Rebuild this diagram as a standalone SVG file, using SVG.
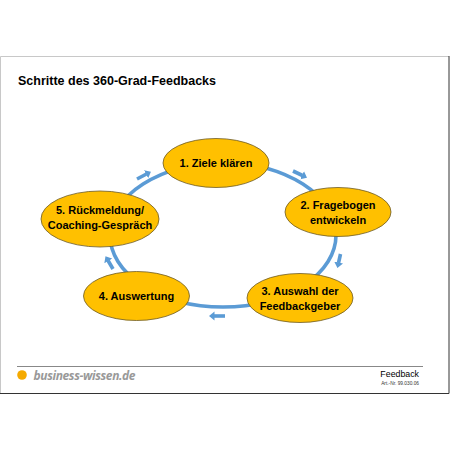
<svg xmlns="http://www.w3.org/2000/svg" width="450" height="450" viewBox="0 0 450 450">
<style>
text{font-family:"Liberation Sans",Arial,sans-serif;fill:#000}
.n{fill:#FFC000;stroke:#6b5a2a;stroke-width:.8}
.l{font-size:11px;font-weight:bold;text-anchor:middle}
.a{stroke:#5B9BD5;stroke-width:3.600;fill:none;marker-end:url(#h)}
</style>
<defs><marker id="h" markerUnits="userSpaceOnUse" markerWidth="6" markerHeight="10" refX="0.500" refY="5" orient="auto"><path d="M0 0.500L5.500 5L0 9.500Z" fill="#5B9BD5"/></marker></defs>
<rect width="450" height="450" fill="#fff"/>
<g id="frame" fill="none">
<path d="M.5 393V56.5H449" stroke="#c8c8c8"/>
<path d="M449 56V393.5H0" stroke="#333"/>
</g>
<text id="title" x="18" y="84.500" font-size="12.500" font-weight="bold">Schritte des 360-Grad-Feedbacks</text>
<g id="connectors">
<ellipse cx="223" cy="235" rx="113" ry="72" fill="none" stroke="#5B9BD5" stroke-width="3.600"/>
<path class="a" d="M137 179L146.500 174"/>
<path class="a" d="M293 171L302.500 175.500"/>
<path class="a" d="M340.500 254L338.500 263"/>
<path class="a" d="M225 316L214 316"/>
<path class="a" d="M113 269L108 260.500"/>
</g>
<g id="node1"><ellipse class="n" cx="216" cy="163" rx="53" ry="24.500"/><text class="l" x="216" y="167">1. Ziele klären</text></g>
<g id="node2"><ellipse class="n" cx="338" cy="212" rx="53" ry="24.500"/><text class="l" x="338" y="209">2. Fragebogen</text><text class="l" x="338" y="224">entwickeln</text></g>
<g id="node3"><ellipse class="n" cx="300" cy="298" rx="53" ry="24.500"/><text class="l" x="300" y="295">3. Auswahl der</text><text class="l" x="300" y="310">Feedbackgeber</text></g>
<g id="node4"><ellipse class="n" cx="136.500" cy="296" rx="53" ry="24.500"/><text class="l" x="136.500" y="300">4. Auswertung</text></g>
<g id="node5"><ellipse class="n" cx="100" cy="219" rx="59" ry="28"/><text class="l" x="100" y="214">5. Rückmeldung/</text><text class="l" x="100" y="229">Coaching-Gespräch</text></g>
<g id="footer">
<path d="M17 366.500H423" stroke="#888" fill="none"/>
<circle cx="22" cy="375" r="4.800" fill="#F5AA00"/>
<text x="33.500" y="379.500" font-size="12" font-weight="bold" font-style="italic" style="font-family:'Open Sans',sans-serif;fill:#999" textLength="102">business-wissen.de</text>
<text x="419" y="377" font-size="8.800" text-anchor="end">Feedback</text>
<text x="419" y="385" font-size="4.800" text-anchor="end" style="fill:#333">Art.-Nr. 99.030.06</text>
</g>
</svg>
